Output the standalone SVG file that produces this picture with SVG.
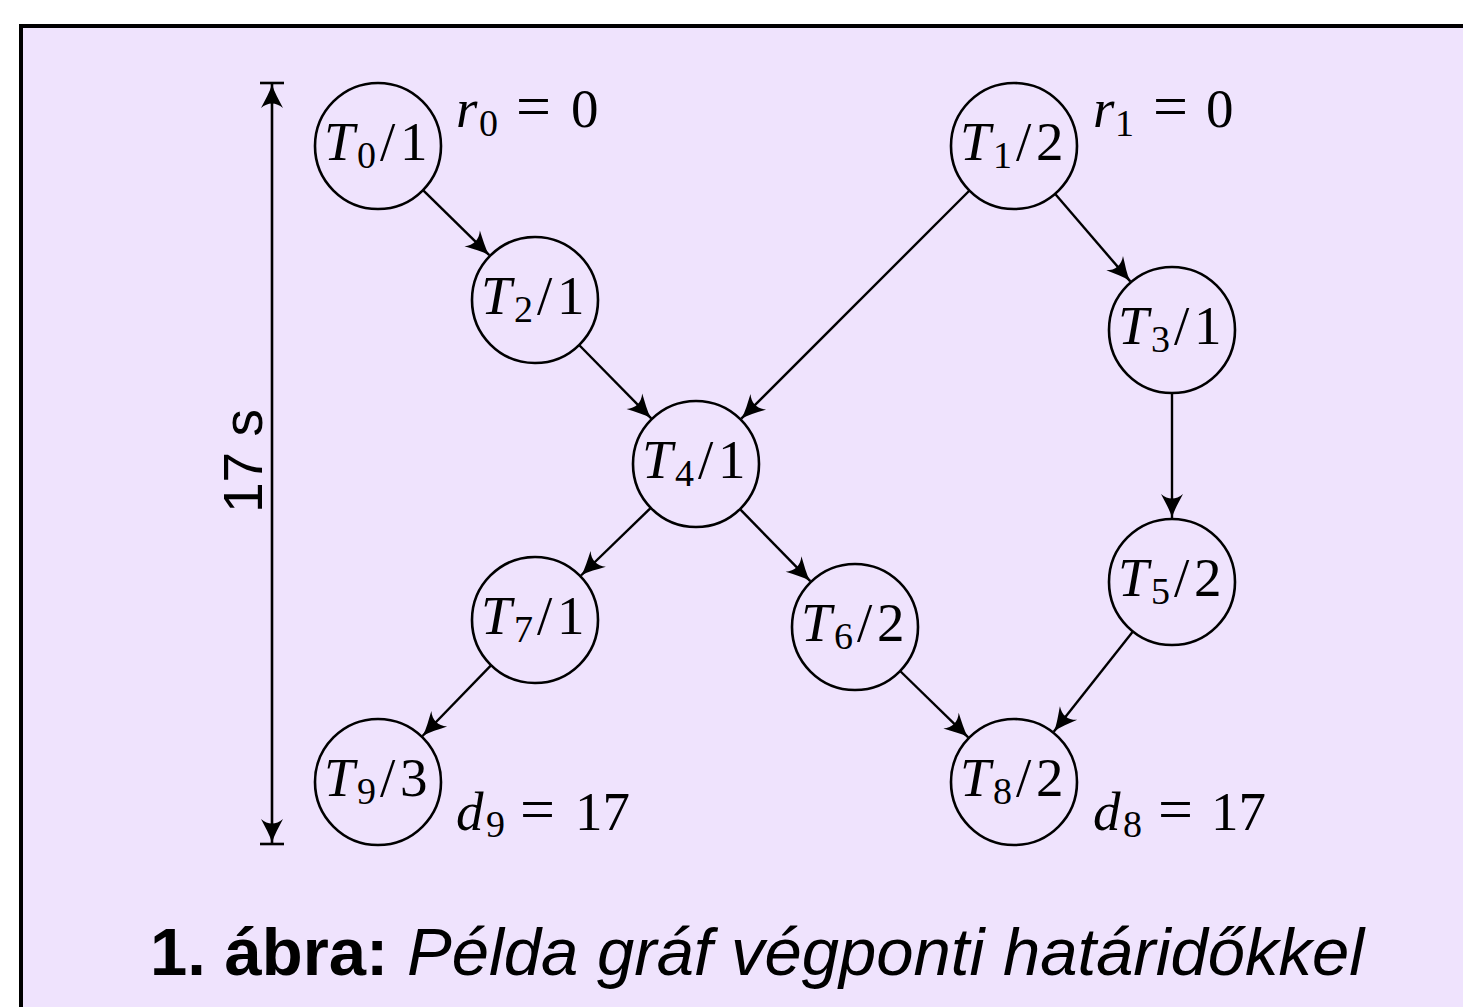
<svg xmlns="http://www.w3.org/2000/svg" width="1463" height="1007" viewBox="0 0 1463 1007">
  <style>
    .node circle { fill: none; stroke: #000; stroke-width: 2.6; }
    .lbl { font-family: "Liberation Serif", "Times New Roman", serif; font-size: 55px; fill: #000; }
    .it { font-style: italic; }
    .sub { font-size: 38px; }
    .eq { font-size: 62px; }
    .edge { stroke: #000; stroke-width: 2.4; fill: none; marker-end: url(#arr); }
    .dim { stroke: #000; stroke-width: 2.6; fill: none; }
  </style>
  <defs>
    <marker id="arr" viewBox="-26 -13 28 26" refX="0" refY="0" markerWidth="28" markerHeight="26" markerUnits="userSpaceOnUse" orient="auto-start-reverse">
      <path d="M0,0 C-8,-2 -16,-7 -24,-11 C-18,-4 -18,4 -24,11 C-16,7 -8,2 0,0 Z" fill="#000"/>
    </marker>
  </defs>

  <!-- frame -->
  <rect x="21" y="26" width="1460" height="1000" fill="#efe3fd" stroke="#000" stroke-width="4"/>

  <!-- duration dimension -->
  <g id="dimension">
    <line class="dim" x1="260" y1="83" x2="284" y2="83"/>
    <line class="dim" x1="260" y1="844" x2="284" y2="844"/>
    <line class="dim" x1="272" y1="84" x2="272" y2="843" marker-start="url(#arr)" marker-end="url(#arr)"/>
    <text transform="translate(262,461) rotate(-90)" text-anchor="middle" font-family="'Liberation Sans', Arial, sans-serif" font-size="55">17 s</text>
  </g>

  <!-- connectors -->
  <g id="edges">
    <line class="edge" x1="423.0" y1="190.1" x2="489.3" y2="255.2"/>
    <line class="edge" x1="579.1" y1="345.0" x2="651.2" y2="418.3"/>
    <line class="edge" x1="969.5" y1="190.5" x2="741.3" y2="418.7"/>
    <line class="edge" x1="1055.0" y1="193.8" x2="1130.3" y2="281.4"/>
    <line class="edge" x1="1172" y1="393" x2="1172" y2="518"/>
    <line class="edge" x1="650.8" y1="507.8" x2="581.0" y2="575.5"/>
    <line class="edge" x1="740.0" y1="509.1" x2="810.3" y2="581.2"/>
    <line class="edge" x1="491.2" y1="665.2" x2="422.5" y2="736.0"/>
    <line class="edge" x1="900.1" y1="671.0" x2="968.2" y2="737.3"/>
    <line class="edge" x1="1132.9" y1="631.4" x2="1053.7" y2="731.8"/>
  </g>

  <!-- task nodes -->
  <g id="T0" class="node">
    <circle cx="378" cy="146" r="63"/>
    <text class="lbl" y="160"><tspan class="it" x="324">T</tspan><tspan class="sub" x="357" dy="8">0</tspan><tspan x="380" dy="-8">/</tspan><tspan x="400">1</tspan></text>
  </g>
  <g id="T1" class="node">
    <circle cx="1014" cy="146" r="63"/>
    <text class="lbl" y="160"><tspan class="it" x="960">T</tspan><tspan class="sub" x="993" dy="8">1</tspan><tspan x="1016" dy="-8">/</tspan><tspan x="1036">2</tspan></text>
  </g>
  <g id="T2" class="node">
    <circle cx="535" cy="300" r="63"/>
    <text class="lbl" y="314"><tspan class="it" x="481">T</tspan><tspan class="sub" x="514" dy="8">2</tspan><tspan x="537" dy="-8">/</tspan><tspan x="557">1</tspan></text>
  </g>
  <g id="T3" class="node">
    <circle cx="1172" cy="330" r="63"/>
    <text class="lbl" y="344"><tspan class="it" x="1118">T</tspan><tspan class="sub" x="1151" dy="8">3</tspan><tspan x="1174" dy="-8">/</tspan><tspan x="1194">1</tspan></text>
  </g>
  <g id="T4" class="node">
    <circle cx="696" cy="464" r="63"/>
    <text class="lbl" y="478"><tspan class="it" x="642">T</tspan><tspan class="sub" x="675" dy="8">4</tspan><tspan x="698" dy="-8">/</tspan><tspan x="718">1</tspan></text>
  </g>
  <g id="T5" class="node">
    <circle cx="1172" cy="582" r="63"/>
    <text class="lbl" y="596"><tspan class="it" x="1118">T</tspan><tspan class="sub" x="1151" dy="8">5</tspan><tspan x="1174" dy="-8">/</tspan><tspan x="1194">2</tspan></text>
  </g>
  <g id="T6" class="node">
    <circle cx="855" cy="627" r="63"/>
    <text class="lbl" y="641"><tspan class="it" x="801">T</tspan><tspan class="sub" x="834" dy="8">6</tspan><tspan x="857" dy="-8">/</tspan><tspan x="877">2</tspan></text>
  </g>
  <g id="T7" class="node">
    <circle cx="535" cy="620" r="63"/>
    <text class="lbl" y="634"><tspan class="it" x="481">T</tspan><tspan class="sub" x="514" dy="8">7</tspan><tspan x="537" dy="-8">/</tspan><tspan x="557">1</tspan></text>
  </g>
  <g id="T8" class="node">
    <circle cx="1014" cy="782" r="63"/>
    <text class="lbl" y="796"><tspan class="it" x="960">T</tspan><tspan class="sub" x="993" dy="8">8</tspan><tspan x="1016" dy="-8">/</tspan><tspan x="1036">2</tspan></text>
  </g>
  <g id="T9" class="node">
    <circle cx="378" cy="782" r="63"/>
    <text class="lbl" y="796"><tspan class="it" x="324">T</tspan><tspan class="sub" x="357" dy="8">9</tspan><tspan x="380" dy="-8">/</tspan><tspan x="400">3</tspan></text>
  </g>

  <!-- release times and deadlines -->
  <g id="annotations">
    <text class="lbl" y="127"><tspan class="it" x="456">r</tspan><tspan class="sub" x="479" dy="9">0</tspan><tspan class="eq" x="516" dy="-9">=</tspan><tspan x="571">0</tspan></text>
    <text class="lbl" y="127"><tspan class="it" x="1093">r</tspan><tspan class="sub" x="1115" dy="9">1</tspan><tspan class="eq" x="1153" dy="-9">=</tspan><tspan x="1206">0</tspan></text>
    <text class="lbl" y="830"><tspan class="it" x="456">d</tspan><tspan class="sub" x="486" dy="7">9</tspan><tspan class="eq" x="520" dy="-7">=</tspan><tspan x="575">17</tspan></text>
    <text class="lbl" y="830"><tspan class="it" x="1093">d</tspan><tspan class="sub" x="1123" dy="7">8</tspan><tspan class="eq" x="1158" dy="-7">=</tspan><tspan x="1211">17</tspan></text>
  </g>

  <!-- caption -->
  <text x="150" y="975" font-family="'Liberation Sans', Arial, sans-serif" font-size="67"><tspan font-weight="bold">1. ábra:</tspan> <tspan font-style="italic">Példa gráf végponti határidőkkel</tspan></text>
</svg>
